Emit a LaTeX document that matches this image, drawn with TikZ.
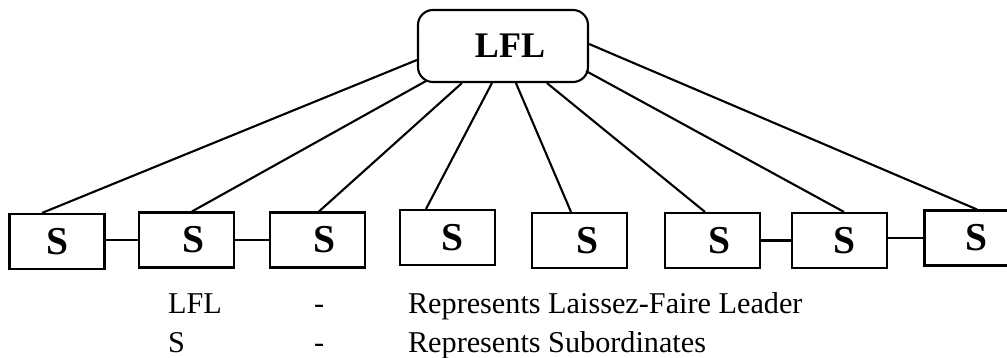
\documentclass[tikz,border=0pt]{standalone}
\usepackage{fontspec}
\setmainfont{Liberation Serif}
\usetikzlibrary{positioning, calc}

\begin{document}
\begin{tikzpicture}[line width=1.2pt,
  sbox/.style={draw, minimum width=1.9cm, minimum height=1.1cm, inner sep=0pt,
    font=\fontsize{22.5}{26}\selectfont\bfseries},
  leader/.style={draw, rounded corners=0.3cm, minimum width=3.4cm, minimum height=1.44cm,
    inner sep=0pt, font=\fontsize{20.5}{24}\selectfont\bfseries},
  legend/.style={anchor=base west, inner sep=0pt, font=\fontsize{17.2}{20}\selectfont}]
  \clip (0,0) rectangle (20.14,7.16);
  \node[leader] (lfl) at (10.06,6.24) {\hspace*{0.28cm}LFL};
  \node[sbox] (s1) at (1.14,2.33) {S};
  \node[sbox] (s2) at (3.73,2.36) {\hspace*{0.28cm}S};
  \node[sbox] (s3) at (6.35,2.36) {\hspace*{0.28cm}S};
  \node[sbox] (s4) at (8.95,2.41) {\hspace*{0.2cm}S};
  \node[sbox] (s5) at (11.59,2.35) {\hspace*{0.3cm}S};
  \node[sbox] (s6) at (14.25,2.35) {\hspace*{0.28cm}S};
  \node[sbox] (s7) at (16.79,2.35) {\hspace*{0.2cm}S};
  \node[sbox] (s8) at (19.44,2.40) {\hspace*{0.16cm}S};
  % leader to subordinates
  \draw ([yshift=-0.28cm]lfl.west) -- ([xshift=-0.3cm]s1.north);
  \draw ([shift={(0.18,0.04)}]lfl.south west) -- ([xshift=0.11cm]s2.north);
  \draw ([xshift=0.9cm]lfl.south west) -- ([xshift=0.03cm]s3.north);
  \draw ([xshift=1.5cm]lfl.south west) -- ([xshift=-0.43cm]s4.north);
  \draw ([xshift=1.98cm]lfl.south west) -- ([xshift=-0.17cm]s5.north);
  \draw ([xshift=2.6cm]lfl.south west) -- ([xshift=-0.15cm]s6.north);
  \draw ([shift={(-0.06,0.24)}]lfl.south east) -- ([xshift=0.09cm]s7.north);
  \draw ([yshift=0.04cm]lfl.east) -- ([xshift=0.1cm]s8.north);
  % links between subordinates
  \draw (s2.west -| s1.east) -- (s2.west);
  \draw (s3.west -| s2.east) -- (s3.west);
  \draw (s7.west -| s6.east) -- (s7.west);
  \draw (s8.west -| s7.east) -- (s8.west);
  % legend
  \node[legend] (k1) at (3.34,0.88) {LFL};
  \node[legend] (d1) at (6.26,0.88) {-};
  \node[legend] (t1) at (8.14,0.88) {Represents Laissez-Faire Leader};
  \node[legend] (k2) at (3.34,0.10) {S};
  \node[legend] (d2) at (6.26,0.10) {-};
  \node[legend] (t2) at (8.14,0.10) {Represents Subordinates};
\end{tikzpicture}
\end{document}
